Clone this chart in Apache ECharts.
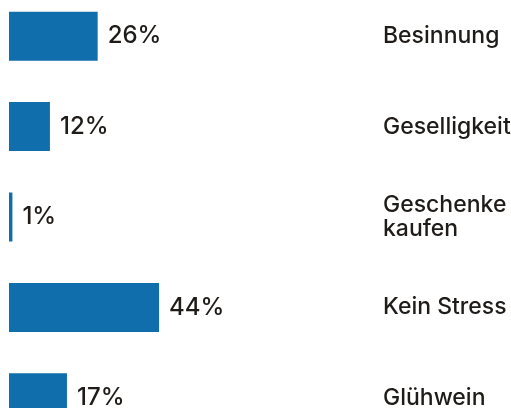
<!DOCTYPE html>
<html>
<head>
<meta charset="utf-8">
<script src="https://cdn.jsdelivr.net/npm/echarts@6/dist/echarts.min.js"></script>
<style>
  html, body { margin: 0; padding: 0; background: #fff; }
  #chart { width: 511px; height: 408px; }
</style>
</head>
<body>
<div id="chart"></div>
<script>
const categories = ["Besinnung", "Geselligkeit", "Geschenke\nkaufen", "Kein Stress", "Glühwein"];
const shares = [26, 12, 1, 44, 17];

const barColor = "#106eac";
const textColor = "#1e1b18";
const fontFamily = "Inter, 'Noto Sans', sans-serif";

const chart = echarts.init(document.getElementById("chart"), null, { renderer: "canvas" });

chart.setOption({
  animation: false,
  grid: { left: 9, width: 341, top: -9, height: 452, outerBoundsMode: "none", containLabel: false },
  xAxis: {
    type: "value",
    min: 0,
    max: 100,
    show: false,
  },
  yAxis: {
    type: "category",
    data: categories,
    inverse: true,
    position: "right",
    axisLine: { show: false },
    axisTick: { show: false },
    splitLine: { show: false },
    axisLabel: {
      margin: 33,
      align: "left",
      color: textColor,
      fontFamily: fontFamily,
      fontSize: 23,
      fontWeight: 500,
      lineHeight: 24,
    },
  },
  series: [
    {
      type: "bar",
      data: shares,
      barWidth: 49,
      itemStyle: { color: barColor },
      label: {
        show: true,
        position: "right",
        distance: 10,
        formatter: "{c}%",
        color: textColor,
        fontFamily: fontFamily,
        fontSize: 24,
        fontWeight: 500,
      },
    },
  ],
});
</script>
</body>
</html>
